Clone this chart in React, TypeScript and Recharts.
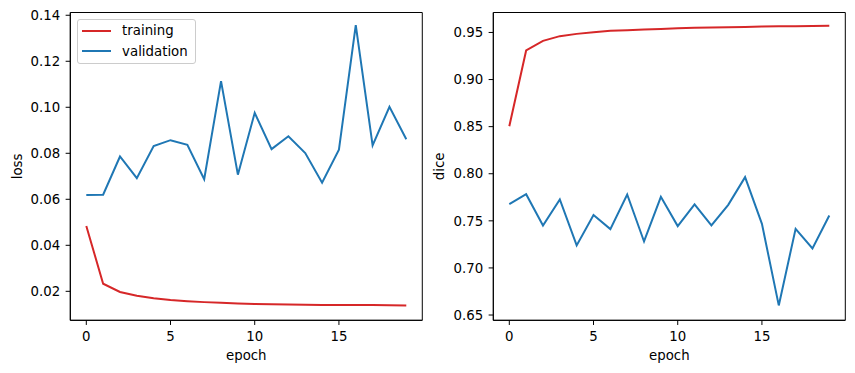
import { Label, Legend, Line, LineChart, ReferenceArea, XAxis, YAxis } from 'recharts'

const epochs = [0, 1, 2, 3, 4, 5, 6, 7, 8, 9, 10, 11, 12, 13, 14, 15, 16, 17, 18, 19]
const trainLoss = [
  0.0484, 0.0233, 0.0197, 0.0181, 0.017, 0.0162, 0.0157, 0.0153, 0.015, 0.0147,
  0.0145, 0.0144, 0.0143, 0.0142, 0.0141, 0.014, 0.014, 0.014, 0.0139, 0.0138,
]
const valLoss = [
  0.0619, 0.062, 0.0786, 0.0692, 0.0831, 0.0857, 0.0837, 0.0687, 0.1114, 0.0707,
  0.0976, 0.0818, 0.0874, 0.0801, 0.0672, 0.0816, 0.1357, 0.0834, 0.1002, 0.0861,
]
const trainDice = [
  0.8505, 0.9309, 0.9411, 0.9461, 0.9485, 0.9503, 0.9517, 0.9524, 0.9531, 0.9538,
  0.9545, 0.9549, 0.9552, 0.9556, 0.9559, 0.9563, 0.9565, 0.9566, 0.9568, 0.957,
]
const valDice = [
  0.7677, 0.7783, 0.7451, 0.7727, 0.7239, 0.7561, 0.7412, 0.778, 0.7281, 0.7755,
  0.7444, 0.7674, 0.7451, 0.767, 0.7964, 0.7468, 0.6602, 0.7415, 0.7207, 0.7557,
]
const epochTicks = [0, 5, 10, 15]
const lossTicks = [0.02, 0.04, 0.06, 0.08, 0.1, 0.12, 0.14]
const diceTicks = [0.65, 0.7, 0.75, 0.8, 0.85, 0.9, 0.95]

const RED = '#d62728'
const BLUE = '#1f77b4'
const FONT = '"DejaVu Sans", sans-serif'
const FS = 13.33
const TICK = { fill: '#000', fontSize: FS, fontFamily: FONT }
const xDomain: [number, number] = [-0.95, 19.95]

const lossRows = epochs.map((e, i) => ({ epoch: e, training: trainLoss[i], validation: valLoss[i] }))
const diceRows = epochs.map((e, i) => ({ epoch: e, training: trainDice[i], validation: valDice[i] }))

function LegendBox(props: any) {
  const items = props.payload ?? []
  return (
    <div
      style={{
        boxSizing: 'border-box',
        width: 119,
        height: 45,
        border: '1px solid #cccccc',
        borderRadius: 3,
        background: 'rgba(255,255,255,0.8)',
        fontFamily: FONT,
        fontSize: FS,
        color: '#000',
        paddingLeft: 3.5,
      }}
    >
      {items.map((it: any) => (
        <div key={it.value} style={{ display: 'flex', alignItems: 'center', height: 20.7 }}>
          <svg width={29} height={4} style={{ display: 'block' }}>
            <line x1={0} x2={29} y1={2} y2={2} stroke={it.color} strokeWidth={2} />
          </svg>
          <span style={{ marginLeft: 11.3, lineHeight: 1 }}>{it.value}</span>
        </div>
      ))}
    </div>
  )
}

function Panel(props: {
  rows: any[]
  ticks: number[]
  domain: [number, number]
  ylabel: string
  marginLeft: number
  marginRight: number
  labelOffset: number
  legend?: boolean
}) {
  const { rows, ticks, domain, ylabel, marginLeft, marginRight, labelOffset, legend } = props
  return (
    <LineChart
      width={marginLeft + 60 + 352 + marginRight}
      height={373}
      data={rows}
      margin={{ top: 12.5, right: marginRight, bottom: 12.7, left: marginLeft }}
    >
      <XAxis
        dataKey="epoch"
        type="number"
        domain={xDomain}
        ticks={epochTicks}
        allowDataOverflow
        height={40}
        stroke="#000"
        tickSize={4.67}
        tickMargin={6.7}
        tick={TICK}
      >
        <Label value="epoch" position="insideBottom" offset={0} style={{ fill: '#000', fontSize: FS, fontFamily: FONT }} />
      </XAxis>
      <YAxis
        type="number"
        domain={domain}
        ticks={ticks}
        allowDataOverflow
        width={60}
        stroke="#000"
        tickSize={4.67}
        tickMargin={5.5}
        tick={TICK}
        tickFormatter={(v: number) => v.toFixed(2)}
      >
        <Label
          value={ylabel}
          angle={-90}
          position="insideLeft"
          offset={labelOffset}
          style={{ fill: '#000', fontSize: FS, fontFamily: FONT, textAnchor: 'middle' }}
        />
      </YAxis>
      {/* axes frame (matplotlib spines) */}
      <ReferenceArea
        x1={xDomain[0]}
        x2={xDomain[1]}
        y1={domain[0]}
        y2={domain[1]}
        fill="none"
        fillOpacity={0}
        stroke="#000"
        strokeWidth={1}
        ifOverflow="visible"
      />
      {legend && (
        <Legend
          layout="vertical"
          align="center"
          verticalAlign="middle"
          content={<LegendBox />}
          wrapperStyle={{ left: 77.3, top: 19.3, width: 119, height: 45 }}
        />
      )}
      <Line
        type="linear"
        dataKey="training"
        name="training"
        stroke={RED}
        strokeWidth={2}
        dot={false}
        isAnimationActive={false}
      />
      <Line
        type="linear"
        dataKey="validation"
        name="validation"
        stroke={BLUE}
        strokeWidth={2}
        dot={false}
        isAnimationActive={false}
      />
    </LineChart>
  )
}

export default function App() {
  return (
    <div style={{ position: 'absolute', left: 0, top: 0, width: 855, height: 373, background: '#fff' }}>
      <div style={{ position: 'absolute', left: 0, top: 0 }}>
        <Panel
          rows={lossRows}
          ticks={lossTicks}
          domain={[0.0074, 0.1412]}
          ylabel="loss"
          marginLeft={10.3}
          marginRight={7.3}
          labelOffset={7}
          legend
        />
      </div>
      <div style={{ position: 'absolute', left: 430, top: 0 }}>
        <Panel
          rows={diceRows}
          ticks={diceTicks}
          domain={[0.6444, 0.9712]}
          ylabel="dice"
          marginLeft={3.3}
          marginRight={9.7}
          labelOffset={6}
        />
      </div>
    </div>
  )
}
